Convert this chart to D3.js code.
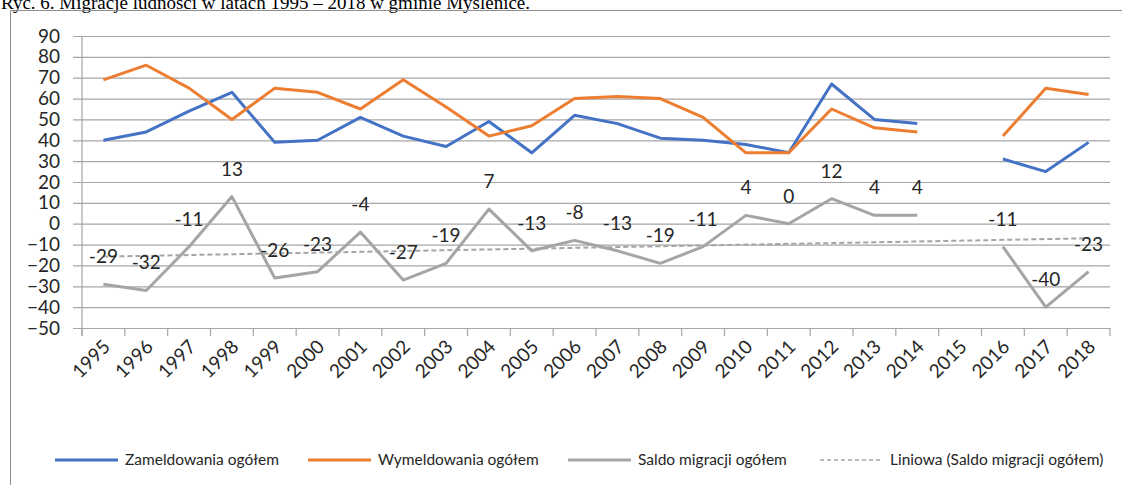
<!DOCTYPE html>
<html><head><meta charset="utf-8">
<script src="https://cdn.jsdelivr.net/npm/d3@7"></script>
<style>html,body{margin:0;padding:0;background:#fff;overflow:hidden}</style>
</head><body>
<svg id="c" width="1122" height="485"></svg>
<script>
const years = ["1995","1996","1997","1998","1999","2000","2001","2002","2003","2004","2005","2006","2007","2008","2009","2010","2011","2012","2013","2014","2015","2016","2017","2018"];
const zameldowania = [40,44,54,63,39,40,51,42,37,49,34,52,48,41,40,38,34,67,50,48,null,31,25,39];
const wymeldowania = [69,76,65,50,65,63,55,69,56,42,47,60,61,60,51,34,34,55,46,44,null,42,65,62];
const saldo = [-29,-32,-11,13,-26,-23,-4,-27,-19,7,-13,-8,-13,-19,-11,4,0,12,4,4,null,-11,-40,-23];
const yTicks = [90,80,70,60,50,40,30,20,10,0,-10,-20,-30,-40,-50];
const seriesNames = ["Zameldowania ogółem","Wymeldowania ogółem","Saldo migracji ogółem","Liniowa (Saldo migracji ogółem)"];
const title = "Ryc. 6. Migracje ludności w latach 1995 – 2018 w gminie Myślenice.";

const colors = ["#4472C4","#ED7D31","#A5A5A5","#A5A5A5"];
const svg = d3.select("#c");
const L = 82, R = 1110, T = 36, B = 328;
const x = d3.scaleBand().domain(years).range([L, R]).padding(0);
const y = d3.scaleLinear().domain([-50, 90]).range([B, T]);
const cx = d => x(d) + x.bandwidth()/2;

// title (partly cropped at the top, as in the source)
svg.append("text").attr("x", 1).attr("y", 9).attr("font-family", "Liberation Serif").attr("font-size", 19).attr("fill", "#000").text(title);
// frame
svg.append("path").attr("d", "M10.5,485 V10.5 H1122").attr("fill","none").attr("stroke","#8c8c8c").attr("stroke-width",1);

// gridlines + y axis
const yAxis = d3.axisLeft(y).tickValues(yTicks).tickSize(-(R - L)).tickPadding(13).tickFormat(d3.format("d"));
const gy = svg.append("g").attr("transform", `translate(${L},0)`).call(yAxis);
gy.select(".domain").remove();
gy.selectAll(".tick line").attr("x1", -9).attr("stroke", "#a6a6a6").attr("stroke-width", 1.2);
gy.selectAll(".tick text").attr("font-family", "Lato, 'Open Sans', sans-serif").attr("font-size", 19).attr("fill", "#262626").attr("x", -22);
svg.append("line").attr("x1", L).attr("x2", L).attr("y1", T).attr("y2", B + 8).attr("stroke", "#a6a6a6").attr("stroke-width", 1.2);

// x axis
const xAxis = d3.axisBottom(x).tickSize(0).tickPadding(0);
const gx = svg.append("g").attr("transform", `translate(0,${B})`).call(xAxis);
gx.select(".domain").attr("stroke", "#a6a6a6").attr("stroke-width", 1.2);
gx.selectAll(".tick line").remove();
const bounds = years.map(d => x(d)).concat([R]);
svg.append("g").selectAll("line").data(bounds).join("line")
  .attr("x1", d => d).attr("x2", d => d).attr("y1", B).attr("y2", B + 8)
  .attr("stroke", "#a6a6a6").attr("stroke-width", 1.2);
gx.selectAll(".tick text")
  .attr("font-family", "Lato, 'Open Sans', sans-serif").attr("font-size", 19).attr("fill", "#262626")
  .attr("text-anchor", "end").attr("dy", 0).attr("y", 0)
  .attr("transform", "translate(8,20) rotate(-45)");

// lines
const line = d3.line().defined(d => d.v !== null).x(d => cx(d.k)).y(d => y(d.v));
[zameldowania, wymeldowania, saldo].forEach((arr, i) => {
  const pts = years.map((k, j) => ({k, v: arr[j]}));
  svg.append("path").datum(pts).attr("d", line).attr("fill", "none")
    .attr("stroke", colors[i]).attr("stroke-width", 3).attr("stroke-linejoin", "round");
});

// linear trend of saldo (least squares over category index)
const pairs = saldo.map((v, j) => ({xi: j + 1, v})).filter(d => d.v !== null);
const mx = d3.mean(pairs, d => d.xi), my = d3.mean(pairs, d => d.v);
const slope = d3.sum(pairs, d => (d.xi - mx) * (d.v - my)) / d3.sum(pairs, d => (d.xi - mx) ** 2);
const icpt = my - slope * mx;
const tr = [years[0], years[years.length - 1]].map(k => ({k, v: icpt + slope * (years.indexOf(k) + 1)}));
svg.append("path").datum(tr).attr("d", line).attr("fill", "none")
  .attr("stroke", "#A5A5A5").attr("stroke-width", 2).attr("stroke-dasharray", "5,3");

// data labels
svg.append("g").selectAll("text").data(years.map((k, j) => ({k, v: saldo[j]})).filter(d => d.v !== null)).join("text")
  .attr("x", d => cx(d.k)).attr("y", d => y(d.v) - 21).attr("text-anchor", "middle")
  .attr("font-family", "Lato, 'Open Sans', sans-serif").attr("font-size", 19).attr("fill", "#262626")
  .text(d => d.v);

// legend
const lx = [55, 308, 568, 820];
const lg = svg.append("g");
seriesNames.forEach((n, i) => {
  lg.append("line").attr("x1", lx[i]).attr("x2", lx[i] + 63).attr("y1", 460).attr("y2", 460)
    .attr("stroke", colors[i]).attr("stroke-width", i === 3 ? 1.5 : 3)
    .attr("stroke-dasharray", i === 3 ? "4,3" : null);
  lg.append("text").attr("x", lx[i] + 70).attr("y", 465).attr("font-family", "Lato, sans-serif")
    .attr("font-size", 15.5).attr("fill", "#262626").text(n);
});
</script>
</body></html>
